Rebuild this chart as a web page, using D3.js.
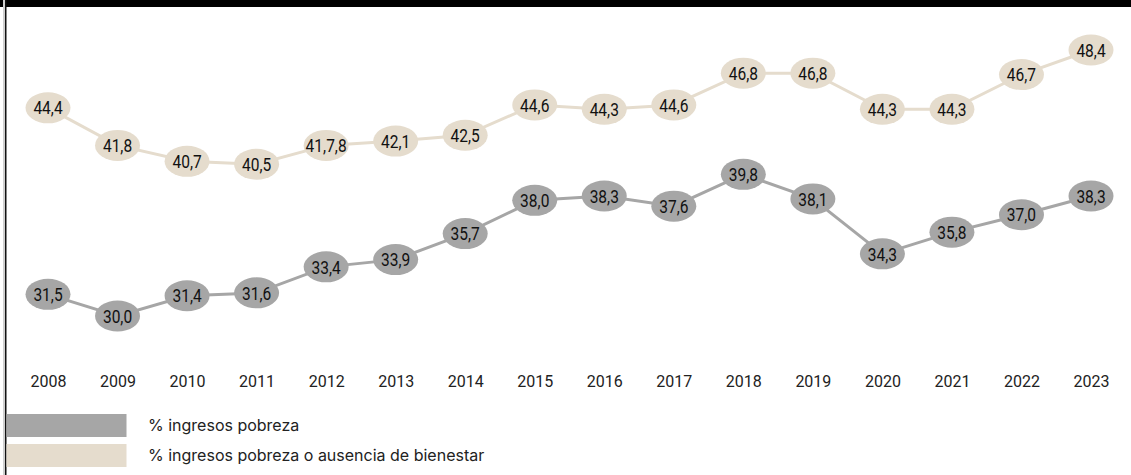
<!DOCTYPE html>
<html>
<head>
<meta charset="utf-8">
<script src="https://cdn.jsdelivr.net/npm/d3@7/dist/d3.min.js"></script>
<style>
  html, body { margin: 0; padding: 0; background: #fff; }
  svg { display: block; }
</style>
</head>
<body>
<svg id="chart" width="1131" height="475"></svg>
<script>
// Years on the horizontal axis
const years = [2008, 2009, 2010, 2011, 2012, 2013, 2014, 2015,
               2016, 2017, 2018, 2019, 2020, 2021, 2022, 2023];

// % ingresos pobreza
const pobreza = [31.5, 30.0, 31.4, 31.6, 33.4, 33.9, 35.7, 38.0,
                 38.3, 37.6, 39.8, 38.1, 34.3, 35.8, 37.0, 38.3];

// % ingresos pobreza o ausencia de bienestar
const bienestar = [44.4, 41.8, 40.7, 40.5, 41.8, 42.1, 42.5, 44.6,
                   44.3, 44.6, 46.8, 46.8, 44.3, 44.3, 46.7, 48.4];

// Printed labels for the upper series (as published)
const bienestarLabels = ["44,4", "41,8", "40,7", "40,5", "41,7,8", "42,1", "42,5", "44,6",
                         "44,3", "44,6", "46,8", "46,8", "44,3", "44,3", "46,7", "48,4"];

const legendItems = ["% ingresos pobreza", "% ingresos pobreza o ausencia de bienestar"];

const GREY = "#a6a6a6";
const BEIGE = "#e5dccd";

const svg = d3.select("#chart");
const W = 1131, H = 475;

// Frame: black band on top, rule on the left
svg.append("rect").attr("x", 0).attr("y", 0).attr("width", W).attr("height", 7).attr("fill", "#000");
svg.append("rect").attr("x", 3).attr("y", 0).attr("width", 2).attr("height", H).attr("fill", "#cfcfcf");
svg.append("rect").attr("x", 5).attr("y", 0).attr("width", 1.5).attr("height", H).attr("fill", "#111");

const x = d3.scalePoint().domain(years).range([48, 1091]);
const y = d3.scaleLinear().domain([30, 48.4]).range([316, 50]);

const fmt = v => d3.format(".1f")(v).replace(".", ",");

// Year axis (labels only)
const axis = d3.axisBottom(x).tickSize(0).tickPadding(0).tickFormat(d3.format("d"));
const axisG = svg.append("g").attr("transform", "translate(0,374)").call(axis);
axisG.select(".domain").remove();
axisG.selectAll("text")
  .attr("font-family", "Roboto, 'Noto Sans', sans-serif")
  .attr("font-size", 16)
  .attr("fill", "#222")
  .attr("dy", "0.8em");

const line = d3.line().x((d, i) => x(years[i])).y(d => y(d));

function drawSeries(values, labels, color) {
  const g = svg.append("g");
  g.append("path")
    .datum(values)
    .attr("d", line)
    .attr("fill", "none")
    .attr("stroke", color)
    .attr("stroke-width", 3);

  const pts = g.selectAll("g.pt")
    .data(values)
    .join("g")
    .attr("class", "pt")
    .attr("transform", (d, i) => `translate(${x(years[i])},${y(d)})`);

  pts.append("ellipse")
    .attr("rx", 22.5)
    .attr("ry", 15.5)
    .attr("fill", color);

  pts.append("text")
    .attr("transform", "scale(0.84,1)")
    .attr("text-anchor", "middle")
    .attr("dy", "0.36em")
    .attr("font-family", "Roboto, 'Noto Sans', sans-serif")
    .attr("font-size", 18.5)
    .attr("fill", "#111")
    .text((d, i) => labels ? labels[i] : fmt(d));
}

drawSeries(bienestar, bienestarLabels, BEIGE);
drawSeries(pobreza, null, GREY);

// Legend
const legend = svg.append("g");
const legendColors = [GREY, BEIGE];
legendItems.forEach((label, i) => {
  const top = 414 + i * 30;
  legend.append("rect")
    .attr("x", 6.5).attr("y", top)
    .attr("width", 120).attr("height", 23)
    .attr("fill", legendColors[i]);
  legend.append("text")
    .attr("x", 148).attr("y", top + 11.5)
    .attr("dy", "0.36em")
    .attr("font-family", "Inter, Roboto, sans-serif")
    .attr("font-size", 16)
    .attr("fill", "#222")
    .text(label);
});
</script>
</body>
</html>
